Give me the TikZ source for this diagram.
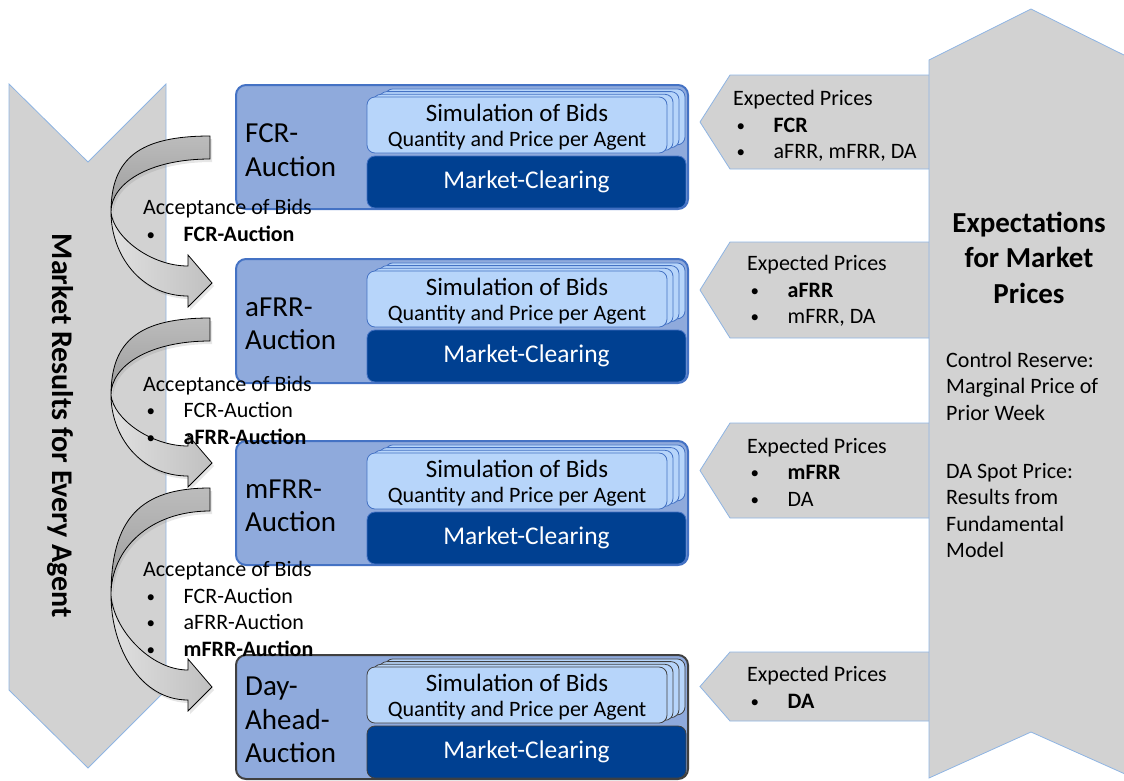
\documentclass[tikz,border=0pt]{standalone}
\usepackage{fontspec}
\setmainfont{Carlito}
\usetikzlibrary{shadows}

\definecolor{arrowgray}{RGB}{210,210,210}
\definecolor{edgeblue}{RGB}{142,180,227}
\definecolor{blockblue}{RGB}{143,170,220}
\definecolor{blockedge}{RGB}{68,114,196}
\definecolor{bidblue}{RGB}{183,213,250}
\definecolor{clearblue}{RGB}{0,64,145}
\definecolor{darkedge}{RGB}{64,64,64}
\definecolor{backlight}{RGB}{188,188,188}
\definecolor{backdark}{RGB}{155,155,155}
\definecolor{frontlight}{RGB}{224,224,224}
\definecolor{frontdark}{RGB}{192,192,192}

% bullet item: small dot, then the text at a fixed tab
\newcommand{\itm}{\hspace*{3.5pt}\makebox[37pt][l]{\raisebox{1pt}{\fontsize{17}{17}\selectfont\textbullet}}}

\begin{document}
\begin{tikzpicture}[x=1pt,y=-1pt,
  bigarrow/.style={fill=arrowgray,draw=edgeblue,line width=0.8pt},
  block/.style={fill=blockblue,line width=2pt,rounded corners=10pt,minimum width=452pt,minimum height=124pt},
  bids/.style={fill=bidblue,line width=0.8pt,rounded corners=8pt,minimum width=300pt,minimum height=56pt},
  clearing/.style={fill=clearblue,line width=0.8pt,rounded corners=8pt,minimum width=319pt,minimum height=52pt,
    text=white,font=\fontsize{25.5}{30}\selectfont},
  bent/.style={draw=black,line width=0.8pt,drop shadow={opacity=0.2,shadow xshift=2pt,shadow yshift=-3pt}},
  note/.style={inner sep=0pt,align=left,anchor=west,font=\fontsize{22}{26.5}\selectfont},
  title/.style={inner sep=0pt,align=left,anchor=west,font=\fontsize{29}{33.5}\selectfont},
]
\useasboundingbox (0,0) rectangle (1124,780);
\clip (0,0) rectangle (1124,780);

% results flowing down on the left
\draw[bigarrow] (9,84) -- (88,162) -- (166,84) -- (166,690) -- (88,768) -- (9,690) -- cycle;
\node[rotate=-90,font=\bfseries\fontsize{30}{36}\selectfont] (results) at (60,426) {Market Results for Every Agent};

% expected prices handed to each auction
\foreach \a/\b in {75/169, 242/338, 423/518, 652/721}
  \draw[bigarrow] (929,\a) -- (730,\a) -- (700,{(\a+\b)/2}) -- (730,\b) -- (929,\b);

% expectations column on the right
\draw[bigarrow] (929,60) -- (1031,9) -- (1134,60) -- (1134,778) -- (1031,732) -- (929,778) -- cycle;

% auction blocks
\foreach \t/\n/\c/\title in {85/fcr/blockedge/{FCR-\\Auction}, 259/afrr/blockedge/{aFRR-\\Auction},
    441/mfrr/blockedge/{mFRR-\\Auction}, 655/da/darkedge/{Day-\\Ahead-\\Auction}} {
  \node[block,draw=\c] (\n) at (462,\t+62) {};
  \node[title] (\n-title) at (245,\t+65) {\title};
  \foreach \s in {3,2,1}
    \node[bids,draw=\c] (\n-bids\s) at (517+6*\s,\t+40-2.7*\s) {};
  \node[bids,draw=\c] (\n-bids) at (517,\t+40) {};
  \node[font=\fontsize{25}{30}\selectfont] (\n-sim) at (517,\t+28) {Simulation of Bids};
  \node[font=\fontsize{22}{26}\selectfont] (\n-qty) at (517,\t+56) {Quantity and Price per Agent};
  \node[clearing,draw=\c] (\n-clear) at (526.5,\t+97) {Market-Clearing};
}

% bent arrows from one auction to the next (a: tail top, m: turning point, c: head)
\foreach \a/\m/\c in {136/212/281, 318/395/461, 488/595/685} {
  \draw[bent,top color=backlight,bottom color=backdark]
    (210,\a) .. controls (140,\a) and (111,{\a+0.29*(\m-\a)}) .. (111,\m)
    .. controls (111,{\m-0.55*(\m-\a-23)}) and (150,\a+23) .. (210,\a+23) -- cycle;
  \draw[bent,left color=frontlight,right color=frontdark]
    (111,\m) .. controls (111,{\m+0.5*(\c+15-\m)}) and (140,\c+15) .. (188,\c+15)
    -- (188,\c+26) -- (212,\c+2) -- (188,\c-26) -- (188,\c-15)
    .. controls (150,\c-15) and (113,{\m+0.45*(\c-15-\m)}) .. (111,\m) -- cycle;
}

% accepted bids
\node[note] (acc1) at (143,220.5) {Acceptance of Bids\\\itm\textbf{FCR-Auction}};
\node[note] (acc2) at (143,410) {Acceptance of Bids\\\itm FCR-Auction\\\itm\textbf{aFRR-Auction}};
\node[note] (acc3) at (143,609) {Acceptance of Bids\\\itm FCR-Auction\\\itm aFRR-Auction\\\itm\textbf{mFRR-Auction}};

% expected prices
\node[note] (exp1) at (733,126) {Expected Prices\\\itm\textbf{FCR}\\\itm aFRR, mFRR, DA};
\node[note] (exp2) at (747,291) {Expected Prices\\\itm\textbf{aFRR}\\\itm mFRR, DA};
\node[note] (exp3) at (747,472) {Expected Prices\\\itm\textbf{mFRR}\\\itm DA};
\node[note] (exp4) at (747,687.5) {Expected Prices\\\itm\textbf{DA}};

\node[inner sep=0pt,align=center,font=\bfseries\fontsize{29}{35.5}\selectfont] (expect) at (1029,257.5)
  {Expectations\\for Market\\Prices};
\node[note] (reserve) at (946,386) {Control Reserve:\\Marginal Price of\\Prior Week};
\node[note] (spot) at (946,510.5) {DA Spot Price:\\Results from\\Fundamental\\Model};
\end{tikzpicture}
\end{document}
